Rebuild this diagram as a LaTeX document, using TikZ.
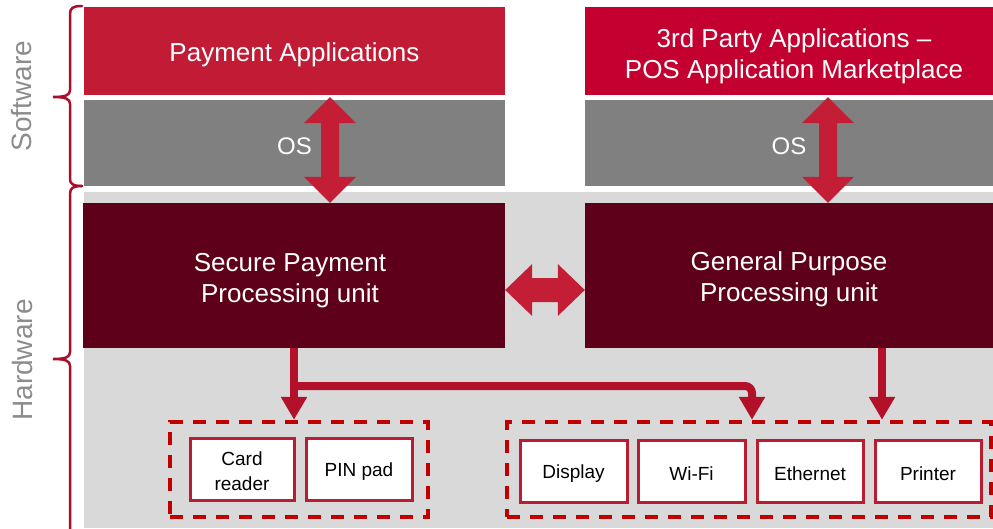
\documentclass[tikz,border=0pt]{standalone}
\usepackage{fontspec}
\setmainfont{Liberation Sans}
\usetikzlibrary{arrows.meta,calc}

\definecolor{appred}{HTML}{C21B36}
\definecolor{appred2}{HTML}{C3002F}
\definecolor{osgray}{HTML}{808080}
\definecolor{cpured}{HTML}{5E0019}
\definecolor{hwgray}{HTML}{D9D9D9}
\definecolor{arrowred}{HTML}{C41E36}
\definecolor{linkred}{HTML}{B3102A}
\definecolor{dashred}{HTML}{C00000}
\definecolor{boxred}{HTML}{B81D30}
\definecolor{bracered}{HTML}{A80F2A}
\definecolor{sidegray}{HTML}{8C8C8C}

\tikzset{
  layer/.style={draw=none, inner sep=0pt},
  caption/.style={inner sep=0pt, align=center, text=white,
    font=\fontsize{26}{31}\selectfont},
  oscaption/.style={caption, font=\fontsize{24}{28}\selectfont},
  device/.style={draw=boxred, line width=3pt, fill=white, inner sep=0pt},
  devtext/.style={inner sep=0pt, align=center, font=\fontsize{19}{25}\selectfont},
  group/.style={draw=dashred, line width=4.5pt, dash pattern=on 13pt off 10pt,
    inner sep=0pt},
  bigarrow/.style={fill=arrowred, draw=none},
  link/.style={draw=linkred, line width=8pt},
  linktip/.style={-{Triangle[width=25pt,length=23pt]}},
  brace/.style={draw=bracered, line width=2.5pt, line cap=round},
  side/.style={text=sidegray, rotate=90, font=\fontsize{28}{32}\selectfont}
}

% vertical block double arrow from tip #1 (top) to tip #2 (bottom)
\newcommand\vdouble[2]{%
  \fill[bigarrow] (#1) -- ++(26,26) -- ++(-17,0) -- ($(#2)+(9,-26)$)
    -- ++(17,0) -- (#2) -- ++(-26,-26) -- ++(17,0) -- ($(#1)+(-9,26)$)
    -- ++(-17,0) -- cycle;}
% horizontal block double arrow from tip #1 (left) to tip #2 (right)
\newcommand\hdouble[2]{%
  \fill[bigarrow] (#1) -- ++(27,-26) -- ++(0,14) -- ($(#2)+(-27,-12)$)
    -- ++(0,-14) -- (#2) -- ++(-27,26) -- ++(0,-14) -- ($(#1)+(27,12)$)
    -- ++(0,14) -- cycle;}

\begin{document}
\begin{tikzpicture}[x=1pt,y=-1pt]
\useasboundingbox (0,0) rectangle (993,528);

% hardware background
\fill[hwgray] (84,192) rectangle (993,528);

% software layers
\node[layer, fill=appred, minimum width=421pt, minimum height=88pt]
  (app1) at (294.5,51) {};
\node[layer, fill=osgray, minimum width=421pt, minimum height=86pt]
  (os1) at (294.5,143) {};
\node[layer, fill=appred2, minimum width=408pt, minimum height=88pt]
  (app2) at (789,51) {};
\node[layer, fill=osgray, minimum width=408pt, minimum height=86pt]
  (os2) at (789,143) {};

% processing units
\node[layer, fill=cpured, minimum width=422pt, minimum height=145pt]
  (cpu1) at (294,275.5) {};
\node[layer, fill=cpured, minimum width=408pt, minimum height=145pt]
  (cpu2) at (789,275.5) {};

% layer captions
\node[caption] (app1t) at ([yshift=-4pt]app1.center) {Payment Applications};
\node[oscaption] (os1t) at ([yshift=-3pt]os1.center) {OS};
\node[caption] (app2t) at ([xshift=5pt,yshift=-5pt]app2.center)
  {3rd Party Applications --\\POS Application Marketplace};
\node[oscaption] (os2t) at ([yshift=-3pt]os2.center) {OS};
\node[caption] (cpu1t) at ([xshift=-4pt,yshift=-5pt]cpu1.center)
  {Secure Payment\\Processing unit};
\node[caption] (cpu2t) at ([yshift=-4pt]cpu2.center)
  {General Purpose\\Processing unit};

% peripheral groups
\node[group, minimum width=258pt, minimum height=95pt] (grp1) at (299,469.5) {};
\node[group, minimum width=484pt, minimum height=95pt] (grp2) at (749,469.5) {};

% peripherals
\node[device, minimum width=104pt, minimum height=62pt] (card) at (242,469) {};
\node[device, minimum width=106pt, minimum height=62pt] (pin) at (359,469) {};
\node[device, minimum width=107pt, minimum height=62pt] (disp) at (573.5,471) {};
\node[device, minimum width=107pt, minimum height=62pt] (wifi) at (691.5,471) {};
\node[device, minimum width=106pt, minimum height=62pt] (eth) at (810,471) {};
\node[device, minimum width=106pt, minimum height=62pt] (prn) at (928,471) {};
\node[devtext] (cardt) at ([yshift=-2pt]card.center) {Card\\reader};
\node[devtext] (pint) at ([yshift=-3pt]pin.center) {PIN pad};
\node[devtext] (dispt) at ([yshift=-3pt]disp.center) {Display};
\node[devtext] (wifit) at ([yshift=-3pt]wifi.center) {Wi-Fi};
\node[devtext] (etht) at ([yshift=-3pt]eth.center) {Ethernet};
\node[devtext] (prnt) at ([yshift=-3pt]prn.center) {Printer};

% vertical double arrows between application layer and processing unit
\coordinate (ax1) at (330,0);
\coordinate (ax2) at (828,0);
\coordinate (a1top) at ([yshift=-2pt]app1.south -| ax1);
\coordinate (a1bot) at (cpu1.north -| ax1);
\coordinate (a2top) at ([yshift=-2pt]app2.south -| ax2);
\coordinate (a2bot) at (cpu2.north -| ax2);
\vdouble{a1top}{a1bot}
\vdouble{a2top}{a2bot}

% horizontal double arrow between the two processing units
\coordinate (hy) at (0,290);
\coordinate (hleft) at (cpu1.east |- hy);
\coordinate (hright) at (cpu2.west |- hy);
\hdouble{hleft}{hright}

% links from processing units to peripherals
\coordinate (split) at (294,386);
\coordinate (bend) at (752,386);
\draw[link, linktip] (cpu1.south -| split) -- (grp1.north -| split);
\draw[link, linktip, rounded corners=7pt] (split) -- (bend) -- (grp2.north -| bend);
\coordinate (prnlink) at (882,0);
\draw[link, linktip] (cpu2.south -| prnlink) -- (grp2.north -| prnlink);

% braces
\draw[brace] (82,6) .. controls (73,6) and (70,8) .. (70,14) -- (70,90)
  .. controls (70,95) and (66,97) .. (53,97)
  .. controls (66,97) and (70,99) .. (70,104) -- (70,179)
  .. controls (70,184) and (73,186) .. (82,186);
\draw[brace] (82,186) .. controls (73,186) and (70,188) .. (70,194) -- (70,352)
  .. controls (70,357) and (66,359) .. (53,359)
  .. controls (66,359) and (70,361) .. (70,366) -- (70,540);

% side labels
\node[side] (swlabel) at (22,96) {Software};
\node[side] (hwlabel) at (22,360) {Hardware};
\end{tikzpicture}
\end{document}
